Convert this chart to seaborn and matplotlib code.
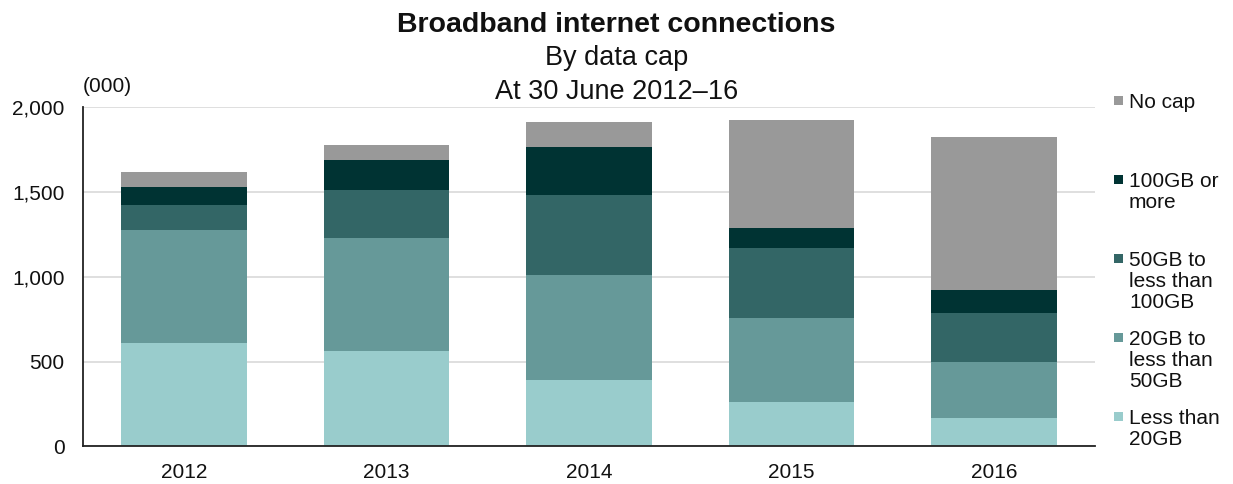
import numpy as np
import pandas as pd
import matplotlib
matplotlib.use("Agg")
import matplotlib.pyplot as plt
from matplotlib.patches import Rectangle
import seaborn as sns

years = ["2012", "2013", "2014", "2015", "2016"]
less_20 = [608, 566, 395, 265, 171]
gb20_50 = [672, 667, 614, 496, 330]
gb50_100 = [142, 283, 472, 413, 284]
gb100_plus = [106, 177, 283, 118, 141]
no_cap = [94, 83, 153, 637, 897]

series = ["Less than\n20GB", "20GB to\nless than\n50GB", "50GB to\nless than\n100GB", "100GB or\nmore", "No cap"]
colors = ["#99CCCC", "#669999", "#336666", "#003333", "#999999"]

sns.set_style("white")
plt.rcParams["font.family"] = ["Liberation Sans", "DejaVu Sans"]

W, H = 1233, 484
fig = plt.figure(figsize=(W / 100, H / 100), dpi=100)
ax = fig.add_axes([0.0671, 0.0775, 0.821, 0.7004])

values = [less_20, gb20_50, gb50_100, gb100_plus, no_cap]
bottom = np.zeros(len(years))
for name, vals, col in zip(series, values, colors):
    sns.barplot(x=years, y=vals, bottom=bottom, color=col, width=0.62,
                ax=ax, saturation=1, edgecolor="none", linewidth=0)
    bottom = bottom + np.array(vals)

ax.set_ylim(0, 2000)
ax.set_xlim(-0.5, 4.5)
ax.set_yticks([0, 500, 1000, 1500, 2000])
ax.set_yticklabels(["0", "500", "1,000", "1,500", "2,000"])
ax.yaxis.grid(True, color="#d9d9d9", linewidth=1.2)
ax.set_axisbelow(True)
ax.tick_params(axis="both", length=0, labelsize=15, colors="#111111")
ax.tick_params(axis="y", pad=13)
ax.tick_params(axis="x", pad=12)
for s in ["top", "right"]:
    ax.spines[s].set_visible(False)
for s in ["left", "bottom"]:
    ax.spines[s].set_color("#222222")
    ax.spines[s].set_linewidth(1.3)
ax.set_xlabel("")
ax.set_ylabel("")

# legend: one slot per series, first line aligned with the swatch
for i, (name, col) in enumerate(zip(series[::-1], colors[::-1])):
    yc = 100 + 79 * i
    fig.patches.append(Rectangle((1114 / W, 1 - (yc + 4.5) / H), 9 / W, 9 / H,
                                 transform=fig.transFigure, facecolor=col,
                                 edgecolor="none"))
    fig.text(1129 / W, 1 - (yc - 7) / H, name, ha="left", va="top",
             fontsize=15, linespacing=1.12, color="#111111")

fig.text(0.5, 1 - 25 / H, "Broadband internet connections", ha="center", va="center",
         fontsize=20.5, fontweight="bold", color="#111111")
fig.text(0.5, 1 - 58 / H, "By data cap", ha="center", va="center", fontsize=19.5,
         color="#111111")
fig.text(0.5, 1 - 92 / H, "At 30 June 2012\u201316", ha="center", va="center",
         fontsize=19.5, color="#111111")
fig.text(83 / W, 1 - 87 / H, "(000)", ha="left", va="center", fontsize=15,
         color="#111111")

fig.savefig("out.png", dpi=100)
